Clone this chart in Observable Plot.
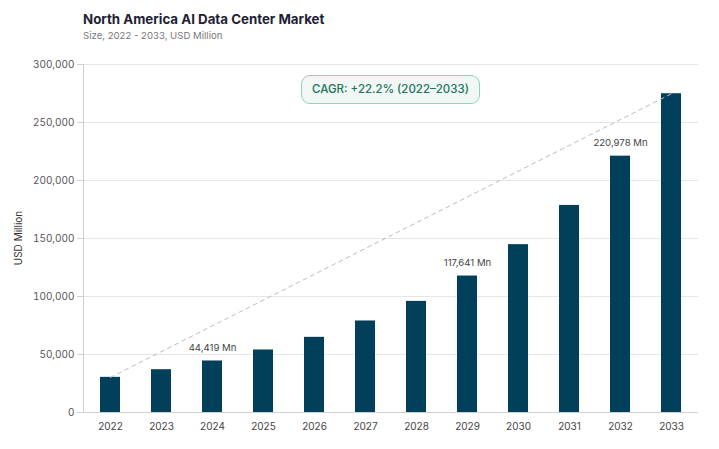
<!DOCTYPE html>
<html>
<head>
<meta charset="utf-8">
<script src="https://cdn.jsdelivr.net/npm/d3@7"></script>
<script src="https://cdn.jsdelivr.net/npm/@observablehq/plot@0.6"></script>
<style>
  body { margin: 0; background: #fff; font-family: Inter, "Noto Sans", sans-serif; }
  #wrap { position: relative; width: 719px; height: 449px; }
  #head { height: 48px; padding-left: 83px; box-sizing: border-box; padding-top: 10px; }
  #title { font-size: 13.3px; font-weight: 700; color: #1e2235; line-height: 18px; }
  #sub { font-size: 9.6px; color: #777; line-height: 14px; margin-top: 1px; }
  #cagr { position: absolute; left: 301px; top: 75px; width: 179px; height: 29px; box-sizing: border-box;
    border: 1.5px solid #8ed3bd; border-radius: 9px; background: #f1f7f5; color: #22735a;
    font-size: 11.5px; font-weight: 500; text-align: center; line-height: 26px; }
  #ylab { position: absolute; left: 18px; top: 238px; transform: translate(-50%, -50%) rotate(-90deg);
    font-size: 10px; color: #333; white-space: nowrap; }
</style>
</head>
<body>
<div id="wrap">
  <div id="head">
    <div id="title">North America AI Data Center Market</div>
    <div id="sub">Size, 2022 - 2033, USD Million</div>
  </div>
  <div id="chart"></div>
  <div id="cagr">CAGR: +22.2% (2022–2033)</div>
  <div id="ylab">USD Million</div>
</div>
<script>
const years = ["2022","2023","2024","2025","2026","2027","2028","2029","2030","2031","2032","2033"];
const values = [30300, 36900, 44419, 53900, 64800, 78900, 95800, 117641, 144700, 178500, 220978, 274800];
const labeledYears = ["2024","2029","2032"];
const yTicks = [0, 50000, 100000, 150000, 200000, 250000, 300000];

const data = years.map((y, i) => ({year: y, value: values[i]}));
const labeled = data.filter(d => labeledYears.includes(d.year));
const trend = [data[0], data[data.length - 1]];

const fmt = d3.format(",");

const plot = Plot.plot({
  width: 719,
  height: 401,
  marginLeft: 84,
  marginRight: 21,
  marginTop: 16,
  marginBottom: 37,
  style: {fontFamily: "Inter, 'Noto Sans', sans-serif", background: "#fff"},
  x: {type: "band", domain: years, paddingInner: 0.6, paddingOuter: 0.3, label: null},
  y: {domain: [0, 300000], label: null},
  marks: [
    Plot.gridY(yTicks, {stroke: "#e6e6e6", strokeOpacity: 1}),
    Plot.axisY(yTicks, {tickFormat: fmt, tickSize: 7, tickPadding: 3, stroke: "#d0d0d0", fill: "#555", fontSize: 10}),
    Plot.axisX({tickSize: 0, tickPadding: 10, fill: "#444", fontSize: 10}),
    Plot.barY(data, {x: "year", y: "value", fill: "#023f5b"}),
    Plot.line(trend, {x: "year", y: "value", stroke: "#bdbdbd", strokeWidth: 1, strokeDasharray: "4,4"}),
    Plot.text(labeled, {x: "year", y: "value", text: d => fmt(d.value) + " Mn", dy: -13, fill: "#444", fontSize: 9.6}),
    Plot.ruleY([0], {stroke: "#d0d0d0"})
  ]
});
document.getElementById("chart").appendChild(plot);

// left axis line at the plot's left edge, from the y scale's range
const ys = plot.scale("y");
const xs = plot.scale("x");
d3.select(plot).append("line")
  .attr("x1", xs.range[0] - 0.5).attr("x2", xs.range[0] - 0.5)
  .attr("y1", ys.range[0]).attr("y2", ys.range[1])
  .attr("stroke", "#d0d0d0");
</script>
</body>
</html>
